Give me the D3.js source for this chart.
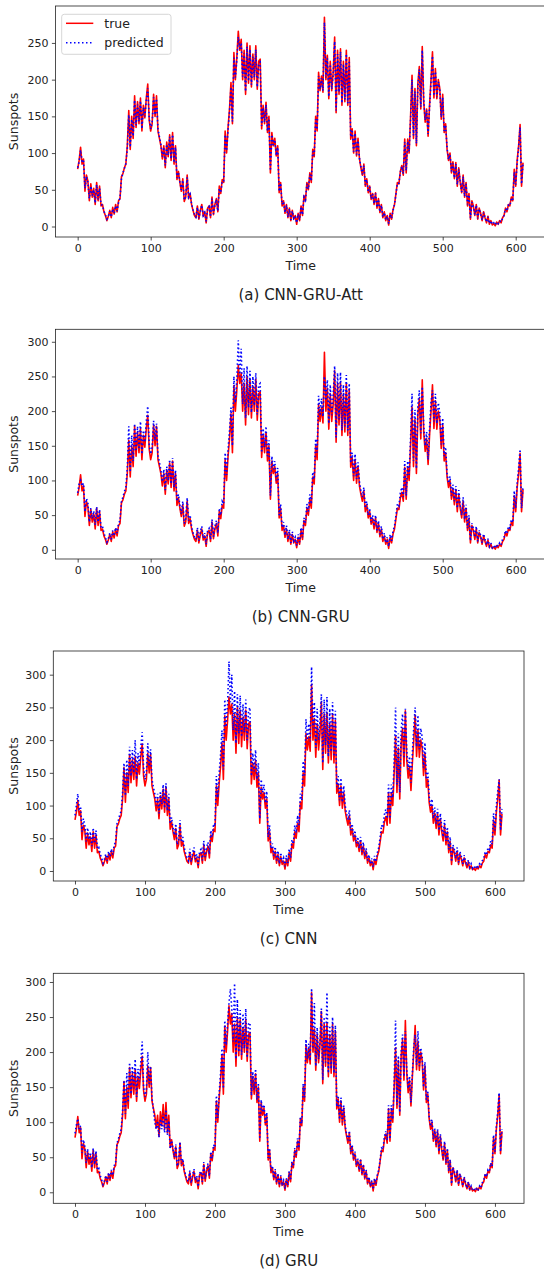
<!DOCTYPE html>
<html>
<head>
<meta charset="utf-8">
<script src="https://cdn.jsdelivr.net/npm/d3@7/dist/d3.min.js"></script>
<style>
body { margin: 0; background: #fff; }
svg { display: block; }
text { font-family: "DejaVu Sans", sans-serif; fill: #222; }
</style>
</head>
<body>
<svg id="chart" width="544" height="1271"></svg>
<script>
// monthly sunspot values, one every 2 time steps (t = 0, 2, ... 610)
var trueVals = [
  78,90,108,85,92,48,70,62,35,58, 40,52,30,60,35,55,28,30,20,15,
  8,14,22,12,26,17,30,20,35,38, 68,72,80,85,110,158,105,150,120,178,
  135,170,140,175,130,165,148,175,194,145, 130,140,180,150,178,130,120,110,92,110,
  80,115,95,125,90,128,85,110,64,75, 60,48,65,34,40,70,38,45,30,22,
  15,12,28,10,22,30,14,20,5,25, 28,12,40,16,30,38,20,55,45,64,
  60,130,100,135,160,196,140,237,200,230, 266,240,255,200,240,180,250,195,246,190,
  235,200,246,187,225,228,133,165,140,169, 128,150,73,128,110,120,96,110,46,60,
  28,35,18,30,12,25,8,22,10,15, 3,18,8,28,15,42,35,60,50,73,
  60,105,95,150,130,210,185,205,183,285, 200,233,174,225,185,210,258,155,240,180,
  242,165,225,170,240,165,230,119,133,100, 130,96,120,92,80,70,85,55,65,46,
  55,37,45,30,46,25,38,19,30,12, 20,8,15,2,18,10,23,30,45,60,
  58,75,83,70,119,73,119,100,150,206, 120,188,110,195,218,160,245,170,142,160,
  123,165,200,238,175,215,174,200,188,146, 180,128,140,105,90,100,73,88,65,87,
  55,80,60,46,70,40,60,28,45,10, 35,28,15,30,10,25,18,8,20,12,
  5,14,3,8,2,4,1,6,3,8, 5,12,15,25,20,30,28,40,35,78,
  55,90,110,139,55,87
];
var predAtt = [
  80,88,104,88,90,52,68,60,38,55, 42,50,32,57,37,52,30,29,21,16,
  10,13,21,13,24,18,28,21,33,39, 65,73,79,86,106,152,108,146,123,172,
  138,166,143,171,133,162,150,172,188,148, 133,141,176,152,174,133,122,112,95,108,
  83,112,97,122,92,125,87,108,66,74, 61,50,63,36,41,67,40,44,31,23,
  16,13,26,11,21,29,15,19,7,24, 27,13,38,17,29,37,21,52,46,62,
  62,125,103,131,157,190,143,230,203,226, 258,242,250,204,236,184,245,198,241,193,
  231,203,241,190,222,224,137,162,142,166, 130,147,76,125,111,118,97,108,48,59,
  30,34,19,29,13,24,9,21,11,14, 5,17,9,27,16,40,36,58,51,71,
  62,102,97,146,132,205,187,202,185,278, 203,229,177,221,187,207,252,158,235,183,
  238,168,221,173,235,168,226,122,132,102, 127,98,117,93,81,71,83,57,64,47,
  54,38,44,31,45,26,37,20,29,13, 19,9,14,4,17,11,22,30,44,59,
  59,74,82,72,115,76,116,102,146,200, 124,184,113,191,214,163,240,173,145,158,
  126,162,197,232,178,211,176,197,187,149, 176,130,138,107,91,98,75,86,66,85,
  57,78,61,47,68,41,58,30,43,12, 33,27,16,29,11,24,17,9,19,12,
  6,13,4,8,3,5,2,6,4,8, 6,11,15,24,21,29,28,38,36,74,
  57,87,108,135,58,85
];
var predCnnGru = [
  82,95,100,92,96,55,74,68,40,60, 45,56,36,62,40,58,32,34,24,18,
  11,16,24,15,28,20,32,24,38,42, 70,76,84,90,118,178,112,165,128,182,
  142,178,145,185,138,172,155,185,207,152, 138,148,186,158,182,136,126,115,98,116,
  86,120,100,130,95,132,90,115,70,80, 64,52,70,38,45,75,42,50,34,25,
  18,15,32,13,26,34,17,24,8,28, 31,15,44,19,34,42,24,60,50,70,
  66,140,108,145,172,205,150,250,212,245, 302,250,290,210,262,190,265,205,258,198,
  250,208,255,195,238,240,140,175,148,178, 135,158,78,135,116,128,100,118,50,66,
  32,40,21,35,15,29,10,26,13,18, 6,22,11,32,18,46,39,66,55,80,
  66,112,102,160,140,222,195,218,192,250, 215,245,182,238,194,222,265,162,255,188,
  256,172,238,178,252,172,240,125,140,106, 138,102,126,98,85,76,90,60,70,50,
  60,40,50,34,50,28,42,22,34,15, 24,10,18,5,22,13,27,34,50,66,
  63,82,90,76,128,78,128,108,162,225, 128,202,117,208,230,168,235,180,150,170,
  130,175,212,230,185,225,182,212,198,152, 190,135,148,110,96,106,78,94,70,92,
  60,86,65,50,76,44,65,31,50,13, 38,31,18,34,12,28,21,10,23,15,
  7,16,5,10,3,6,2,8,5,10, 7,15,18,28,23,34,31,44,39,85,
  60,96,118,145,60,92
];
var predCnn = [
  85,100,118,95,98,60,80,70,45,66, 48,60,38,66,42,62,34,36,26,20,
  12,18,26,16,30,22,34,25,40,44, 72,78,86,92,120,165,115,170,130,190,
  145,185,150,200,140,180,160,190,212,158, 140,150,195,160,186,140,128,118,100,118,
  88,122,102,132,96,134,92,118,72,82, 66,55,72,40,47,78,44,52,36,27,
  20,16,34,14,28,36,18,26,9,30, 33,16,46,21,36,44,26,62,52,72,
  68,145,112,150,178,215,155,262,220,255, 320,258,300,215,275,195,270,210,268,205,
  255,212,262,200,245,250,145,180,152,185, 140,165,80,140,120,132,104,122,52,70,
  34,42,23,37,16,31,11,28,14,20, 7,24,12,34,20,48,41,70,58,85,
  70,118,108,168,146,232,200,225,198,312, 218,258,188,248,200,230,270,165,262,192,
  266,175,248,182,258,175,245,128,145,108, 142,105,130,100,88,78,93,62,72,52,
  62,42,52,35,52,29,44,23,35,16, 25,11,19,6,23,14,28,36,52,70,
  66,86,94,80,132,80,132,112,168,250, 132,210,120,215,240,172,248,185,155,175,
  135,180,220,250,190,238,186,218,205,158, 196,140,152,114,98,110,80,97,72,95,
  62,88,67,52,78,46,67,33,52,14, 40,33,19,36,13,30,22,11,24,16,
  8,17,6,11,4,7,3,9,6,11, 8,16,19,30,24,36,33,46,41,88,
  62,100,122,140,62,95
];
var predGru = [
  84,96,105,90,95,56,75,66,42,62, 46,57,35,63,40,59,32,34,24,18,
  11,16,24,15,28,20,32,24,38,42, 70,76,84,90,116,160,112,170,128,185,
  140,180,148,190,136,176,158,186,215,150, 136,146,200,155,180,135,118,100,90,102,
  78,105,90,112,85,118,82,102,62,74, 62,50,68,37,44,72,41,48,33,25,
  18,15,31,13,25,33,17,23,8,27, 30,15,43,19,33,41,23,58,48,68,
  64,138,106,142,170,205,148,245,210,240, 270,290,262,215,298,190,275,200,260,196,
  255,205,262,192,240,242,138,172,146,176, 132,156,76,132,114,125,99,114,49,63,
  31,38,20,33,14,27,10,24,12,17, 5,20,10,30,17,44,37,63,53,77,
  63,108,98,155,135,218,190,212,188,291, 205,270,180,235,190,215,262,160,250,185,
  285,170,238,176,250,170,238,122,138,104, 135,100,124,96,83,74,88,58,68,48,
  58,39,48,32,48,27,40,21,32,14, 22,9,17,4,20,12,25,32,47,63,
  61,79,87,74,124,76,124,104,156,245, 125,195,114,200,225,165,230,176,148,166,
  128,170,208,225,182,230,180,206,194,150, 186,132,145,108,94,104,76,91,68,90,
  58,83,63,48,73,42,63,30,47,12, 36,30,17,32,11,27,19,9,22,14,
  6,15,4,9,3,5,2,7,4,9, 6,14,17,27,22,32,30,42,37,82,
  58,94,115,142,58,90
];
var timeTicks = [0, 100, 200, 300, 400, 500, 600];
var yTicksA = [0, 50, 100, 150, 200, 250];
var yTicksB = [0, 50, 100, 150, 200, 250, 300];
var captions = ["(a) CNN-GRU-Att", "(b) CNN-GRU", "(c) CNN", "(d) GRU"];

var times = d3.range(0, trueVals.length * 2, 2);

var panels = [
  {pred: predAtt,    yTicks: yTicksA, x0: 55.4, x1: 546, y0: 6,     y1: 237,    yDom: [-14.3, 300.3], xDom: [-30.5, 641.5]},
  {pred: predCnnGru, yTicks: yTicksB, x0: 55.4, x1: 546, y0: 329.3, y1: 559,    yDom: [-13.3, 318],   xDom: [-30.5, 641.5]},
  {pred: predCnn,    yTicks: yTicksB, x0: 53.3, x1: 524, y0: 651,   y1: 881,    yDom: [-15.3, 336.2], xDom: [-31, 641.5]},
  {pred: predGru,    yTicks: yTicksB, x0: 53.3, x1: 524, y0: 973.3, y1: 1203.3, yDom: [-15.7, 312.4], xDom: [-31, 641.5]}
];

var svg = d3.select("#chart");

panels.forEach(function (p, i) {
  var x = d3.scaleLinear().domain(p.xDom).range([p.x0, p.x1]);
  var y = d3.scaleLinear().domain(p.yDom).range([p.y1, p.y0]);
  var g = svg.append("g");

  var line = function (vals) {
    return d3.line()
      .x(function (d, j) { return x(times[j]); })
      .y(function (d) { return y(d); })(vals);
  };

  g.append("clipPath").attr("id", "clip" + i)
    .append("rect").attr("x", p.x0).attr("y", p.y0)
    .attr("width", p.x1 - p.x0).attr("height", p.y1 - p.y0);

  var plot = g.append("g").attr("clip-path", "url(#clip" + i + ")");
  plot.append("path").attr("d", line(trueVals))
    .attr("fill", "none").attr("stroke", "#ff0000").attr("stroke-width", 1.6)
    .attr("stroke-linejoin", "round");
  plot.append("path").attr("d", line(p.pred))
    .attr("fill", "none").attr("stroke", "#0000ff").attr("stroke-width", 1.6)
    .attr("stroke-dasharray", "1.5,2.5");

  // axes
  var xAxis = d3.axisBottom(x).tickValues(timeTicks).tickSize(3.5).tickPadding(3.5);
  var yAxis = d3.axisLeft(y).tickValues(p.yTicks).tickSize(3.5).tickPadding(3.5);
  var gx = g.append("g").attr("transform", "translate(0," + p.y1 + ")").call(xAxis);
  var gy = g.append("g").attr("transform", "translate(" + p.x0 + ",0)").call(yAxis);
  [gx, gy].forEach(function (a) {
    a.select(".domain").remove();
    a.selectAll("line").attr("stroke", "#222").attr("stroke-width", 0.8);
    a.selectAll("text").attr("font-size", 11).attr("fill", "#222")
      .style("font-family", "'DejaVu Sans', sans-serif");
  });

  g.append("rect").attr("x", p.x0).attr("y", p.y0)
    .attr("width", p.x1 - p.x0).attr("height", p.y1 - p.y0)
    .attr("fill", "none").attr("stroke", "#222").attr("stroke-width", 0.8);

  var cx = (p.x0 + p.x1) / 2;
  g.append("text").attr("x", cx).attr("y", p.y1 + 33)
    .attr("text-anchor", "middle").attr("font-size", 12.5).text("Time");
  g.append("text")
    .attr("transform", "translate(18," + ((p.y0 + p.y1) / 2) + ") rotate(-90)")
    .attr("text-anchor", "middle").attr("font-size", 12.5).text("Sunspots");
  g.append("text").attr("x", cx).attr("y", p.y1 + 63)
    .attr("text-anchor", "middle").attr("font-size", 15).text(captions[i]);

  if (i === 0) {
    var lg = g.append("g");
    lg.append("rect").attr("x", 61.7).attr("y", 14.3).attr("width", 109.3).attr("height", 40)
      .attr("rx", 2.5).attr("fill", "#fff").attr("fill-opacity", 0.8)
      .attr("stroke", "#ccc").attr("stroke-width", 0.8);
    lg.append("line").attr("x1", 66).attr("x2", 93.3).attr("y1", 23.3).attr("y2", 23.3)
      .attr("stroke", "#ff0000").attr("stroke-width", 1.5);
    lg.append("line").attr("x1", 66).attr("x2", 93.3).attr("y1", 42.7).attr("y2", 42.7)
      .attr("stroke", "#0000ff").attr("stroke-width", 1.5).attr("stroke-dasharray", "1.5,2.5");
    lg.append("text").attr("x", 104.3).attr("y", 27.8).attr("font-size", 12.5).text("true");
    lg.append("text").attr("x", 104.3).attr("y", 47.2).attr("font-size", 12.5).text("predicted");
  }
});
</script>
</body>
</html>
